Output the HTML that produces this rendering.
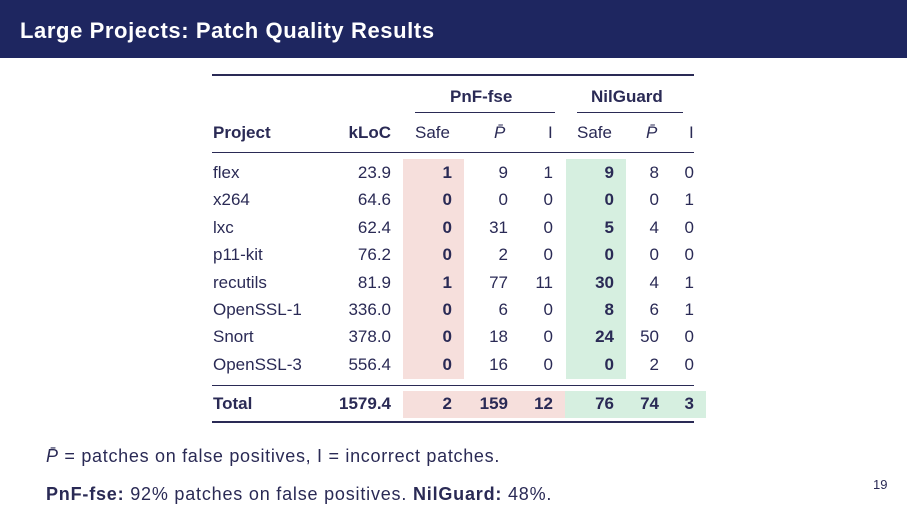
<!DOCTYPE html><html><head><style>
body{margin:0;width:907px;height:510px;background:#fff;position:relative;overflow:hidden;font-family:"Liberation Sans",sans-serif;color:#2a2a55}
.a{position:absolute;white-space:nowrap;font-size:17px;line-height:20px}
.r{text-align:right}
.b{font-weight:bold}
.rule{position:absolute;left:212px;width:482px;background:#2a2a55}
.bx{position:absolute}
</style></head><body>
<div style="position:absolute;left:0;top:0;width:907px;height:58px;background:#1e2660"></div>
<div class="a b" style="left:20px;top:18px;font-size:22px;line-height:26px;letter-spacing:0.6px;color:#fff">Large Projects: Patch Quality Results</div>
<div class="bx" style="left:403px;top:159px;width:61px;height:220px;background:#f6dfdc"></div>
<div class="bx" style="left:566px;top:159px;width:60px;height:220px;background:#d6efe0"></div>
<div class="bx" style="left:403px;top:391px;width:162px;height:27px;background:#f6dfdc"></div>
<div class="bx" style="left:565px;top:391px;width:141px;height:27px;background:#d6efe0"></div>
<div class="rule" style="top:74px;height:2px"></div>
<div class="rule" style="top:152px;height:1px"></div>
<div class="rule" style="top:385px;height:1px"></div>
<div class="rule" style="top:421px;height:2px"></div>
<div class="bx" style="left:415px;top:112px;width:140px;height:1px;background:#2a2a55"></div>
<div class="bx" style="left:577px;top:112px;width:106px;height:1px;background:#2a2a55"></div>
<div class="a b" style="left:450px;top:87px">PnF-fse</div>
<div class="a b" style="left:591px;top:87px">NilGuard</div>
<div class="a b" style="left:213px;top:123px">Project</div>
<div class="a b r" style="left:331px;top:123px;width:60px">kLoC</div>
<div class="a" style="left:415px;top:123px">Safe</div>
<div class="a" style="left:494px;top:123px;font-style:italic">P̄</div>
<div class="a" style="left:548px;top:123px">I</div>
<div class="a" style="left:577px;top:123px">Safe</div>
<div class="a" style="left:646px;top:123px;font-style:italic">P̄</div>
<div class="a" style="left:689px;top:123px">I</div>
<div id="rows"></div>
<div class="a b" style="left:213px;top:394px">Total</div>
<div class="a b r" style="left:311px;top:394px;width:80px">1579.4</div>
<div class="a b r" style="left:406px;top:394px;width:46px">2</div>
<div class="a b r" style="left:460px;top:394px;width:48px">159</div>
<div class="a b r" style="left:510px;top:394px;width:43px">12</div>
<div class="a b r" style="left:570px;top:394px;width:44px">76</div>
<div class="a b r" style="left:620px;top:394px;width:39px">74</div>
<div class="a b r" style="left:660px;top:394px;width:34px">3</div>
<div class="a" style="left:46px;top:446px;font-size:18px;letter-spacing:0.7px"><i>P̄</i> = patches on false positives, I = incorrect patches.</div>
<div class="a" style="left:46px;top:484px;font-size:18px;letter-spacing:0.8px"><b>PnF-fse:</b> 92% patches on false positives. <b>NilGuard:</b> 48%.</div>
<div class="a" style="left:873px;top:475px;font-size:13px">19</div>
<script>
var d=[["flex","23.9",1,9,1,9,8,0],["x264","64.6",0,0,0,0,0,1],["lxc","62.4",0,31,0,5,4,0],["p11-kit","76.2",0,2,0,0,0,0],["recutils","81.9",1,77,11,30,4,1],["OpenSSL-1","336.0",0,6,0,8,6,1],["Snort","378.0",0,18,0,24,50,0],["OpenSSL-3","556.4",0,16,0,0,2,0]];
var h="",R=[[311,80],[406,46],[460,48],[510,43],[570,44],[620,39],[660,34]];
d.forEach(function(r,i){var t=163+i*27.4;h+='<div class="a" style="left:213px;top:'+t+'px">'+r[0]+'</div>';
for(var j=1;j<8;j++){var c=R[j-1];h+='<div class="a r'+((j==2||j==5)?' b':'')+'" style="left:'+c[0]+'px;top:'+t+'px;width:'+c[1]+'px">'+r[j]+'</div>';}});
document.getElementById("rows").innerHTML=h;
</script>
</body></html>
